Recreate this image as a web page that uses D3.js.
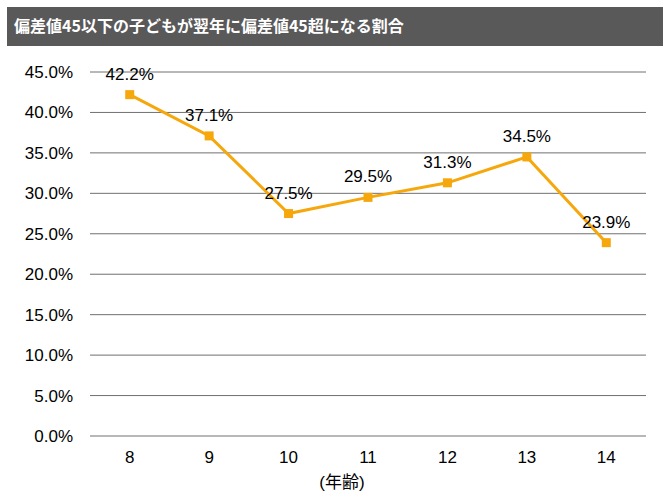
<!DOCTYPE html>
<html><head><meta charset="utf-8">
<script src="https://cdn.jsdelivr.net/npm/d3@7"></script>
<style>body{margin:0;background:#fff;}svg{display:block;font-family:"Liberation Sans",Arial,sans-serif;}</style>
</head><body><svg id="c" width="670" height="500"></svg>
<script>
const title = "偏差値45以下の子どもが翌年に偏差値45超になる割合";
const ages = ["8","9","10","11","12","13","14"];
const rates = [42.2, 37.1, 27.5, 29.5, 31.3, 34.5, 23.9];
const yTicks = [0,5,10,15,20,25,30,35,40,45];
const xTitle = "(年齢)";

const svg = d3.select("#c");
svg.append("rect").attr("x",7).attr("y",7).attr("width",656).attr("height",39).attr("fill","#595959");
svg.append("text").attr("x",14).attr("y",32).attr("fill","#fff").attr("font-size",16).attr("font-weight","bold")
  .attr("font-family","'Noto Sans CJK JP',sans-serif").text(title);

const x = d3.scaleBand().domain(ages).range([90,646]);
const y = d3.scaleLinear().domain([0,45]).range([436,72]);

const grid = svg.append("g");
grid.selectAll("line").data(yTicks).join("line")
  .attr("x1",90).attr("x2",646).attr("y1",d=>y(d)).attr("y2",d=>y(d))
  .attr("stroke","#707070").attr("stroke-width",1);

const ya = svg.append("g").attr("transform","translate(90,0)")
  .call(d3.axisLeft(y).tickValues(yTicks).tickSize(0).tickPadding(17).tickFormat(d=>d.toFixed(1)+"%"));
ya.select(".domain").remove();
ya.selectAll("text").attr("font-size",17).attr("fill","#000").attr("font-family","'Liberation Sans',Arial,sans-serif");

const xa = svg.append("g").attr("transform","translate(0,436)")
  .call(d3.axisBottom(x).tickSize(0).tickPadding(15));
xa.select(".domain").remove();
xa.selectAll("text").attr("font-size",17).attr("fill","#000").attr("font-family","'Liberation Sans',Arial,sans-serif");

svg.append("text").attr("x",342).attr("y",488).attr("text-anchor","middle").attr("font-size",17)
  .attr("font-family","'Liberation Sans','Noto Sans CJK JP',sans-serif").text(xTitle);

const cx = (d,i)=>x(ages[i])+x.bandwidth()/2;
const line = d3.line().x((d,i)=>cx(d,i)).y(d=>y(d));
svg.append("path").datum(rates).attr("d",line).attr("fill","none").attr("stroke","#F6A70C").attr("stroke-width",3);
svg.selectAll("rect.m").data(rates).join("rect").attr("class","m")
  .attr("x",(d,i)=>cx(d,i)-4.5).attr("y",d=>y(d)-4.5).attr("width",9).attr("height",9).attr("fill","#F6A70C");
svg.selectAll("text.lab").data(rates).join("text").attr("class","lab")
  .attr("x",(d,i)=>cx(d,i)).attr("y",d=>y(d)-15).attr("text-anchor","middle").attr("font-size",17)
  .attr("fill","#000").text(d=>d.toFixed(1)+"%");
</script></body></html>
